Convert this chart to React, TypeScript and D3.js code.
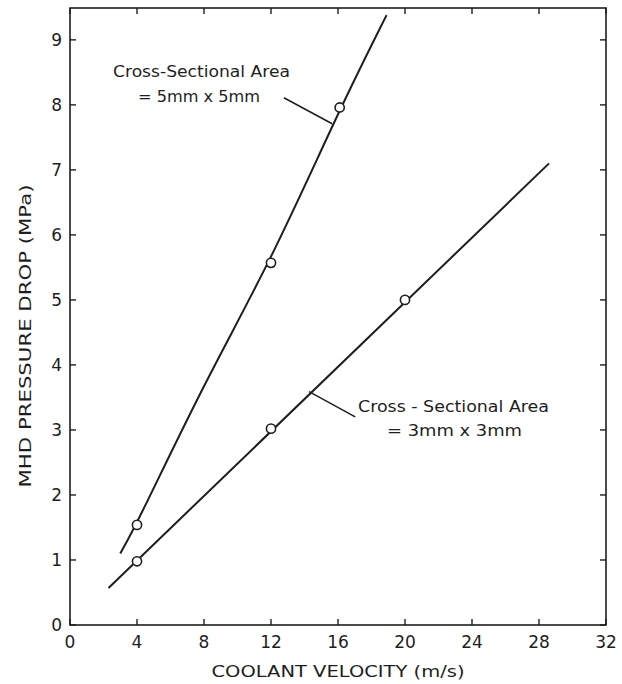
import React from "react";
import * as d3 from "d3";

const xTicks = [0, 4, 8, 12, 16, 20, 24, 28, 32];
const yTicks = [0, 1, 2, 3, 4, 5, 6, 7, 8, 9];

// 5mm x 5mm series (line control points)
const curve5: [number, number][] = [
  [3.0, 1.1], [4, 1.56], [8, 3.72], [12, 5.6], [16.1, 7.94], [18.9, 9.38],
];
const points5: [number, number][] = [[4, 1.54], [12, 5.57], [16.1, 7.96]];

// 3mm x 3mm series
const line3: [number, number][] = [[2.3, 0.57], [28.6, 7.1]];
const points3: [number, number][] = [[4, 0.98], [12, 3.02], [20, 5.0]];

// annotation leaders (data coords)
const leader5: [number, number][] = [[12.77, 8.11], [15.65, 7.71]];
const leader3: [number, number][] = [[14.27, 3.59], [17.03, 3.2]];

const W = 622, H = 684;
const FONT = "'DejaVu Sans', sans-serif";
const INK = "#1e1e1e";

export default function App() {
  const x = d3.scaleLinear().domain([0, 32]).range([70, 606]);
  const y = d3.scaleLinear().domain([0, 9.49]).range([625, 8]);
  const top = y(9.49), bottom = y(0), left = x(0), right = x(32);
  const lineGen = d3.line<[number, number]>().x(d => x(d[0])).y(d => y(d[1]));
  const curveGen = d3.line<[number, number]>().x(d => x(d[0])).y(d => y(d[1])).curve(d3.curveBasis);
  const tl = 6;
  return (
    <svg width={W} height={H} style={{ position: "absolute", left: 0, top: 0, background: "#fff" }}>
      <rect x={0} y={0} width={W} height={H} fill="#fff" />
      {/* frame */}
      <rect x={left} y={top} width={right - left} height={bottom - top} fill="none" stroke={INK} strokeWidth={1.6} />
      {xTicks.map(t => (
        <g key={"xt" + t}>
          <line x1={x(t)} x2={x(t)} y1={bottom} y2={bottom - tl} stroke={INK} strokeWidth={1.4} />
          <line x1={x(t)} x2={x(t)} y1={top} y2={top + tl} stroke={INK} strokeWidth={1.4} />
          <text x={x(t)} y={648} textAnchor="middle" fontFamily={FONT} fontSize={17} fill={INK}>{t}</text>
        </g>
      ))}
      {yTicks.map(t => (
        <g key={"yt" + t}>
          <line x1={left} x2={left + tl} y1={y(t)} y2={y(t)} stroke={INK} strokeWidth={1.4} />
          <line x1={right} x2={right - tl} y1={y(t)} y2={y(t)} stroke={INK} strokeWidth={1.4} />
          <text x={62} y={y(t)} dy="0.36em" textAnchor="end" fontFamily={FONT} fontSize={17} fill={INK}>{t}</text>
        </g>
      ))}
      {/* axis titles */}
      <text x={338} y={677} textAnchor="middle" fontFamily={FONT} fontSize={16} fill={INK} textLength={253} lengthAdjust="spacingAndGlyphs">COOLANT VELOCITY (m/s)</text>
      <text transform={`translate(31,336) rotate(-90)`} textAnchor="middle" fontFamily={FONT} fontSize={16} fill={INK} textLength={303} lengthAdjust="spacingAndGlyphs">MHD PRESSURE DROP (MPa)</text>
      {/* series lines */}
      <path d={curveGen(curve5) || ""} fill="none" stroke={INK} strokeWidth={2} />
      <path d={lineGen(line3) || ""} fill="none" stroke={INK} strokeWidth={2} />
      {/* leaders */}
      <path d={lineGen(leader5) || ""} fill="none" stroke={INK} strokeWidth={1.5} />
      <path d={lineGen(leader3) || ""} fill="none" stroke={INK} strokeWidth={1.5} />
      {/* markers */}
      {[...points5, ...points3].map((p, i) => (
        <circle key={"p" + i} cx={x(p[0])} cy={y(p[1])} r={4.6} fill="#fff" stroke={INK} strokeWidth={1.6} />
      ))}
      {/* annotations */}
      <text x={113} y={77} fontFamily={FONT} fontSize={16} fill={INK} textLength={177} lengthAdjust="spacingAndGlyphs">Cross-Sectional Area</text>
      <text x={138} y={102} fontFamily={FONT} fontSize={16} fill={INK} textLength={122} lengthAdjust="spacingAndGlyphs">= 5mm  x  5mm</text>
      <text x={358} y={412} fontFamily={FONT} fontSize={16} fill={INK} textLength={191} lengthAdjust="spacingAndGlyphs">Cross - Sectional Area</text>
      <text x={387} y={436} fontFamily={FONT} fontSize={16} fill={INK} textLength={135} lengthAdjust="spacingAndGlyphs">= 3mm  x  3mm</text>
    </svg>
  );
}
